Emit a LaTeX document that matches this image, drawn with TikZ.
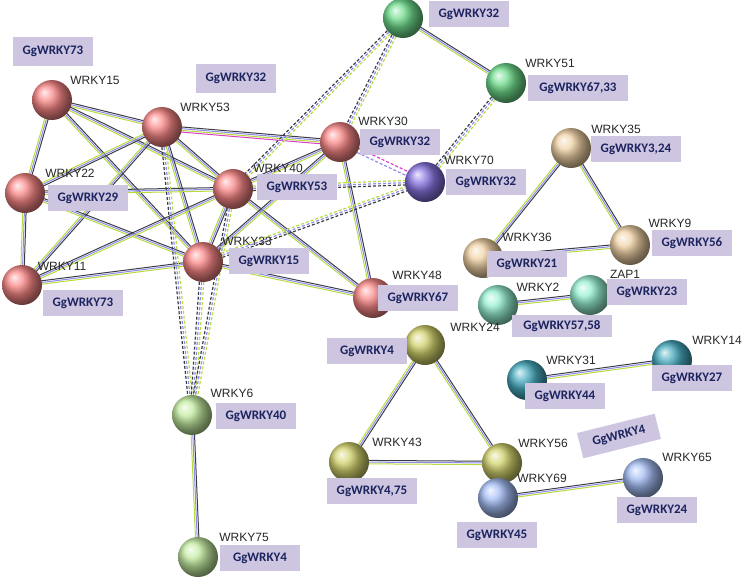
\documentclass[tikz,border=0pt]{standalone}
\usepackage{fontspec}
\setmainfont{Liberation Sans}
\newfontfamily\carlito{Carlito}
\usepackage{xcolor}
\usepackage{tikz}
\usetikzlibrary{calc, backgrounds}

\definecolor{tagfill}{RGB}{206,198,224}
\definecolor{tagtext}{RGB}{28,36,96}
\definecolor{tiegreen}{RGB}{185,220,60}
\definecolor{tieblue}{RGB}{140,140,235}
\definecolor{tiedark}{RGB}{60,60,70}
\definecolor{tiepink}{RGB}{220,60,200}
\definecolor{redball}{RGB}{250,135,135}
\definecolor{greenball}{RGB}{110,220,140}
\definecolor{purpleball}{RGB}{135,115,225}
\definecolor{tanball}{RGB}{240,210,165}
\definecolor{aquaball}{RGB}{150,240,210}
\definecolor{oliveball}{RGB}{210,210,110}
\definecolor{limeball}{RGB}{195,235,160}
\definecolor{tealball}{RGB}{70,170,190}
\definecolor{blueball}{RGB}{165,190,245}

\begin{document}
\begin{tikzpicture}[
    x=1pt, y=-1pt,
    ball/.style={circle, minimum size=40pt, inner sep=0pt, shading=ball},
    gene/.style={font=\fontsize{12}{14}\selectfont, text=black!85, inner sep=0pt},
    tag/.style={fill=tagfill, minimum width=80pt, minimum height=26pt, inner sep=0pt,
      font=\carlito\bfseries\fontsize{13}{15}\selectfont, text=tagtext},
    tiea/.style={tiedark, line width=1pt},
    tieb/.style={tieblue, line width=1pt},
    tiec/.style={tiegreen, line width=1pt},
    hint/.style={line width=1.2pt, dash pattern=on 3pt off 2pt}
]
\useasboundingbox (0,0) rectangle (747,579);

% proteins
\node[ball, ball color=redball] (w15) at (52,100) {};
\node[ball, ball color=redball] (w53) at (162,127) {};
\node[ball, ball color=redball] (w22) at (25,193) {};
\node[ball, ball color=redball] (w40) at (233,189) {};
\node[ball, ball color=redball] (w11) at (22,285) {};
\node[ball, ball color=redball] (w33) at (203,262) {};
\node[ball, ball color=redball] (w30) at (340,142) {};
\node[ball, ball color=redball] (w48) at (373,298) {};
\node[ball, ball color=greenball] (w32) at (403,18) {};
\node[ball, ball color=greenball] (w51) at (506,83) {};
\node[ball, ball color=purpleball] (w70) at (425,182) {};
\node[ball, ball color=tanball] (w35) at (571,148) {};
\node[ball, ball color=tanball] (w36) at (483,258) {};
\node[ball, ball color=tanball] (w9) at (630,245) {};
\node[ball, ball color=aquaball] (w2) at (498,305) {};
\node[ball, ball color=aquaball] (zap1) at (590,295) {};
\node[ball, ball color=oliveball] (w24) at (425,345) {};
\node[ball, ball color=oliveball] (w43) at (349,462) {};
\node[ball, ball color=oliveball] (w56) at (502,463) {};
\node[ball, ball color=blueball] (w69) at (498,498) {};
\node[ball, ball color=blueball] (w65) at (643,478) {};
\node[ball, ball color=tealball] (w31) at (527,380) {};
\node[ball, ball color=tealball] (w14) at (672,360) {};
\node[ball, ball color=limeball] (w6) at (192,415) {};
\node[ball, ball color=limeball] (w75) at (198,557) {};

% interactions
\begin{scope}[on background layer]
\foreach \a/\b in {w15/w53, w15/w22, w15/w40, w15/w33, w53/w22, w53/w11, w53/w40,
    w53/w33, w53/w30, w22/w40, w22/w33, w22/w11, w11/w40, w11/w33, w40/w33, w40/w30,
    w40/w48, w33/w30, w33/w48, w30/w48, w32/w51, w35/w36, w35/w9, w36/w9, w2/zap1,
    w24/w43, w24/w56, w43/w56, w31/w14, w69/w65, w6/w75} {
  \draw[tiea] ($(\a)!1.7pt!90:(\b)$) -- ($(\b)!1.7pt!-90:(\a)$);
  \draw[tieb] (\a) -- (\b);
  \draw[tiec] ($(\a)!1.7pt!-90:(\b)$) -- ($(\b)!1.7pt!90:(\a)$);
}
\draw[tiepink, line width=1pt] ($(w53)!3.4pt!-90:(w30)$) -- ($(w30)!3.4pt!90:(w53)$);
\foreach \a/\b in {w32/w40, w32/w30, w40/w70, w33/w70, w51/w70, w53/w6, w33/w6, w40/w6} {
  \draw[hint, tiegreen] ($(\a)!2.2pt!90:(\b)$) -- ($(\b)!2.2pt!-90:(\a)$);
  \draw[hint, tieblue] (\a) -- (\b);
  \draw[hint, tiedark] ($(\a)!2.2pt!-90:(\b)$) -- ($(\b)!2.2pt!90:(\a)$);
}
\draw[hint, tiepink] ($(w30)!2.2pt!90:(w70)$) -- ($(w70)!2.2pt!-90:(w30)$);
\draw[hint, tieblue] ($(w30)!2.2pt!-90:(w70)$) -- ($(w70)!2.2pt!90:(w30)$);
\end{scope}

% STRING names
\node[gene] (l15) at (95,80) {WRKY15};
\node[gene] (l53) at (205,107) {WRKY53};
\node[gene] (l22) at (70,173) {WRKY22};
\node[gene] (l40) at (278,168) {WRKY40};
\node[gene] (l11) at (62,266) {WRKY11};
\node[gene] (l33) at (247,241) {WRKY33};
\node[gene] (l30) at (383,121) {WRKY30};
\node[gene] (l48) at (417,275) {WRKY48};
\node[gene] (l51) at (550,63) {WRKY51};
\node[gene] (l70) at (469,160) {WRKY70};
\node[gene] (l35) at (616,129) {WRKY35};
\node[gene] (l9) at (670,223) {WRKY9};
\node[gene] (l36) at (527,237) {WRKY36};
\node[gene] (lzap1) at (625,274) {ZAP1};
\node[gene] (l2) at (538,287) {WRKY2};
\node[gene] (l24) at (475,327) {WRKY24};
\node[gene] (l43) at (397,442) {WRKY43};
\node[gene] (l56) at (543,443) {WRKY56};
\node[gene] (l69) at (542,478) {WRKY69};
\node[gene] (l65) at (687,457) {WRKY65};
\node[gene] (l31) at (571,360) {WRKY31};
\node[gene] (l14) at (717,340) {WRKY14};
\node[gene] (l6) at (232,393) {WRKY6};
\node[gene] (l75) at (244,537) {WRKY75};

% Gg homologues
\node[tag, minimum height=29pt] (b73a) at (53,51) {GgWRKY73};
\node[tag, minimum height=29pt] (b32a) at (236,78) {GgWRKY32};
\node[tag] (b29) at (88,198) {GgWRKY29};
\node[tag] (b73b) at (83,303) {GgWRKY73};
\node[tag] (b53) at (297,187) {GgWRKY53};
\node[tag] (b15) at (269,261) {GgWRKY15};
\node[tag] (b32b) at (469,14) {GgWRKY32};
\node[tag, minimum width=100pt] (b6733) at (578,88) {GgWRKY67,33};
\node[tag] (b32c) at (400,142) {GgWRKY32};
\node[tag] (b32d) at (486,182) {GgWRKY32};
\node[tag, minimum width=90pt] (b324) at (636,149) {GgWRKY3,24};
\node[tag] (b56) at (692,243) {GgWRKY56};
\node[tag] (b21) at (527,264) {GgWRKY21};
\node[tag] (b67) at (418,298) {GgWRKY67};
\node[tag] (b23) at (647,292) {GgWRKY23};
\node[tag, minimum width=100pt, minimum height=22pt] (b5758) at (562,326) {GgWRKY57,58};
\node[tag] (b4a) at (367,351) {GgWRKY4};
\node[tag] (b40) at (256,416) {GgWRKY40};
\node[tag, minimum width=90pt] (b475) at (372,491) {GgWRKY4,75};
\node[tag] (b4b) at (260,558) {GgWRKY4};
\node[tag] (b45) at (497,535) {GgWRKY45};
\node[tag] (b24) at (657,510) {GgWRKY24};
\node[tag] (b44) at (565,396) {GgWRKY44};
\node[tag] (b27) at (692,378) {GgWRKY27};
\node[tag, rotate=14] (b4c) at (619,436) {GgWRKY4};
\end{tikzpicture}
\end{document}
